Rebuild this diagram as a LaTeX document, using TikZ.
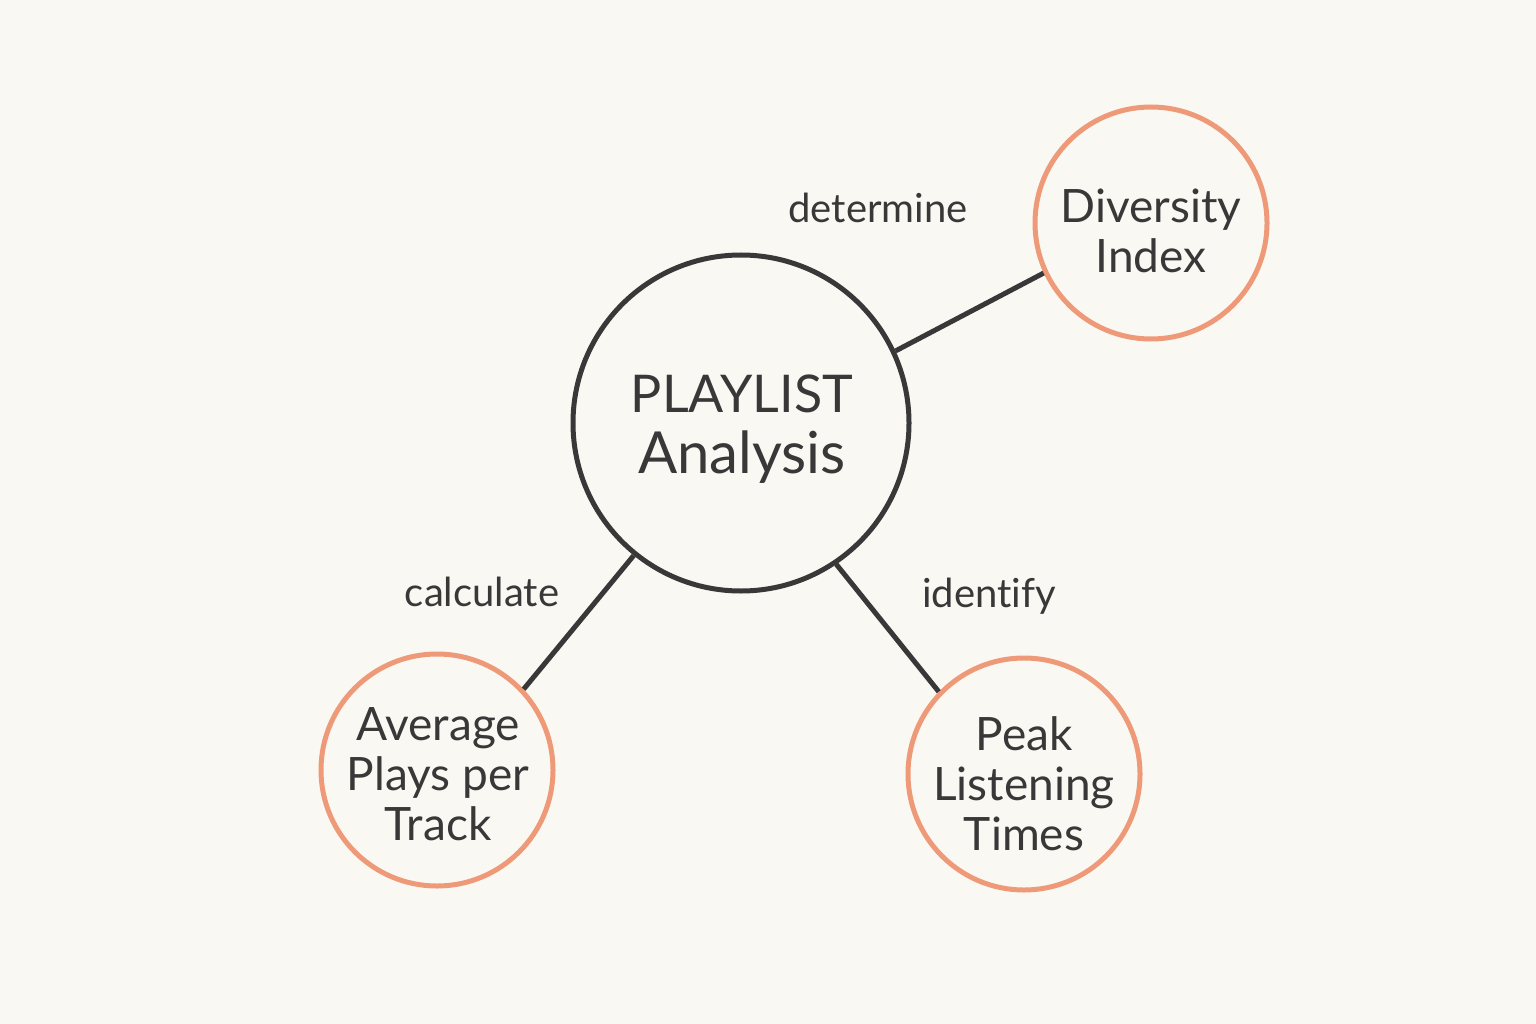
\documentclass[tikz,border=0pt]{standalone}
\usepackage{fontspec}
\setmainfont[Ligatures=NoCommon]{Lato}
\definecolor{bg}{HTML}{FAF8F3}
\definecolor{ink}{HTML}{383838}
\definecolor{peach}{HTML}{EE9A78}
\begin{document}
\begin{tikzpicture}[x=1pt,y=-1pt,
  hub/.style={circle,draw=ink,line width=5pt,minimum size=336pt,inner sep=0pt},
  leaf/.style={circle,draw=peach,line width=5pt,minimum size=232pt,inner sep=0pt},
  txt/.style={align=center,text=ink,inner sep=0pt},
  leaftxt/.style={txt,font=\fontsize{46}{50}\selectfont},
  link/.style={draw=ink,line width=5pt},
  lbl/.style={text=ink,font=\fontsize{40}{48}\selectfont,inner sep=0pt}]
\fill[bg] (0,0) rectangle (1536,1024);
\useasboundingbox (0,0) rectangle (1536,1024);
\node[hub] (c) at (741,423) {};
\node[leaf] (d) at (1151,223) {};
\node[leaf] (a) at (437,770) {};
\node[leaf] (p) at (1024,774) {};
\node[txt,anchor=base,font=\fontsize{52}{61}\selectfont] (ct1) at (742,412) {PLAYLIST};
\node[txt,anchor=base,font=\fontsize{58}{61}\selectfont] (ct2) at (742,473) {Analysis};
\node[leaftxt] (dt) at (1151,231) {Diversity\\Index};
\node[leaftxt] (at) at (438,774) {Average\\Plays per\\Track};
\node[leaftxt] (pt) at (1024,784) {Peak\\Listening\\Times};
\draw[link] (c.25) -- (d.205);
\draw[link] (c.231) -- (a.43);
\draw[link] (c.304) -- (p.136);
\node[lbl] (l1) at (878,208) {determine};
\node[lbl] (l2) at (482,592) {calculate};
\node[lbl] (l3) at (989,596) {identify};
\end{tikzpicture}
\end{document}
